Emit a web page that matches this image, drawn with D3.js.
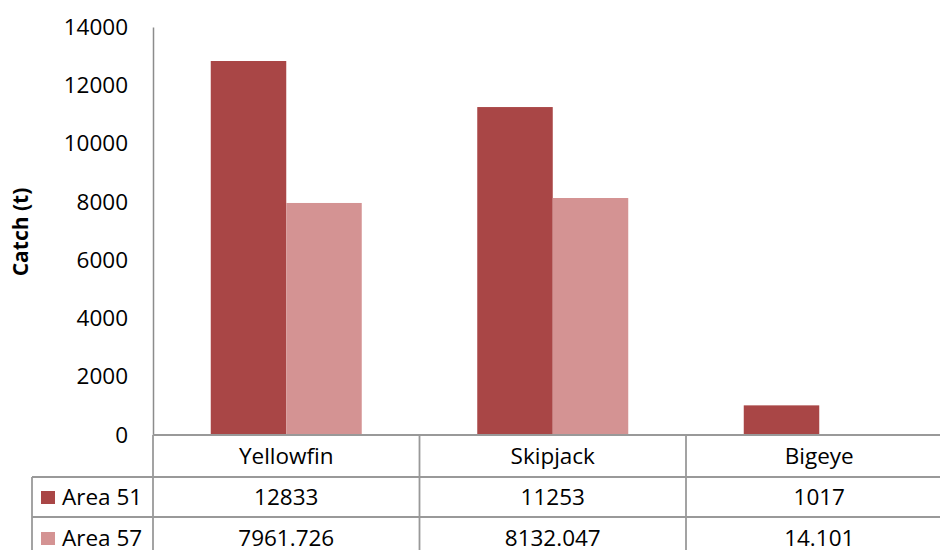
<!DOCTYPE html>
<html><head><meta charset="utf-8">
<script src="https://cdn.jsdelivr.net/npm/d3@7"></script>
<style>html,body{margin:0;padding:0;background:#fff;overflow:hidden}</style>
</head><body>
<svg id="chart" width="940" height="550"></svg>
<script>
const categories = ["Yellowfin", "Skipjack", "Bigeye"];
const seriesNames = ["Area 51", "Area 57"];
const area51 = [12833, 11253, 1017];
const area57 = [7961.726, 8132.047, 14.101];
const area51Labels = ["12833", "11253", "1017"];
const area57Labels = ["7961.726", "8132.047", "14.101"];
const yTicks = [0, 2000, 4000, 6000, 8000, 10000, 12000, 14000];
const colors = ["#A94646", "#D49393"];
const yTitle = "Catch (t)";

const svg = d3.select("#chart");
const font = "'Open Sans', 'Noto Sans', sans-serif";
const fs = 22.5;
const plotLeft = 153, plotTop = 27, base = 435, bandW = 266.5;
const plotRight = plotLeft + bandW * categories.length;

const x = d3.scaleBand().domain(categories).range([plotLeft, plotRight]).paddingInner(0).paddingOuter(0);
const x1 = d3.scaleBand().domain(seriesNames).range([0, bandW]).paddingInner(0).paddingOuter(0.765);
const y = d3.scaleLinear().domain([0, 14000]).range([base, plotTop]);

const series = [area51, area57];
const g = svg.append("g");
series.forEach((vals, si) => {
  g.selectAll(null).data(vals).enter().append("rect")
    .attr("x", (d, i) => x(categories[i]) + x1(seriesNames[si]))
    .attr("width", x1.bandwidth())
    .attr("y", d => y(d))
    .attr("height", d => base - y(d))
    .attr("fill", colors[si]);
});

// y axis
const yAxis = d3.axisLeft(y).tickValues(yTicks).tickSize(0).tickPadding(25).tickFormat(d3.format("d"));
const ya = svg.append("g").attr("transform", `translate(${plotLeft},0)`).call(yAxis);
ya.select(".domain").attr("stroke", "#8c8c8c").attr("stroke-width", 1.5);
ya.selectAll("text").attr("font-family", font).attr("font-size", fs).attr("fill", "#000");

svg.append("text").attr("transform", `translate(28,232) rotate(-90)`)
  .attr("text-anchor", "middle").attr("font-family", font).attr("font-weight", "bold")
  .attr("font-size", 21).text(yTitle);

// data table
const lineC = "#999", lw = 1.8;
const rowY = [435, 477, 517, 557];
const tableLeft = 32;
const ln = (a, b, c, d) => svg.append("line").attr("x1", a).attr("y1", b).attr("x2", c).attr("y2", d)
  .attr("stroke", lineC).attr("stroke-width", lw);
ln(plotLeft, rowY[0], plotRight, rowY[0]);
ln(tableLeft, rowY[1], plotRight, rowY[1]);
ln(tableLeft, rowY[2], plotRight, rowY[2]);
ln(tableLeft, rowY[1], tableLeft, rowY[3]);
categories.forEach(c => ln(x(c), rowY[0], x(c), rowY[3]));
ln(plotRight, rowY[0], plotRight, rowY[3]);

svg.selectAll(null).data(categories).enter().append("text")
  .attr("x", d => x(d) + bandW / 2).attr("y", 464)
  .attr("text-anchor", "middle").attr("font-family", font).attr("font-size", fs).text(d => d);

[area51Labels, area57Labels].forEach((labs, si) => {
  const cy = si === 0 ? 505 : 546;
  svg.selectAll(null).data(labs).enter().append("text")
    .attr("x", (d, i) => x(categories[i]) + bandW / 2).attr("y", cy)
    .attr("text-anchor", "middle").attr("font-family", font).attr("font-size", fs).text(d => d);
  svg.append("rect").attr("x", 41).attr("y", cy - 14).attr("width", 14).attr("height", 13).attr("fill", colors[si]);
  svg.append("text").attr("x", 62).attr("y", cy).attr("font-family", font).attr("font-size", fs).text(seriesNames[si]);
});
</script>
</body></html>
